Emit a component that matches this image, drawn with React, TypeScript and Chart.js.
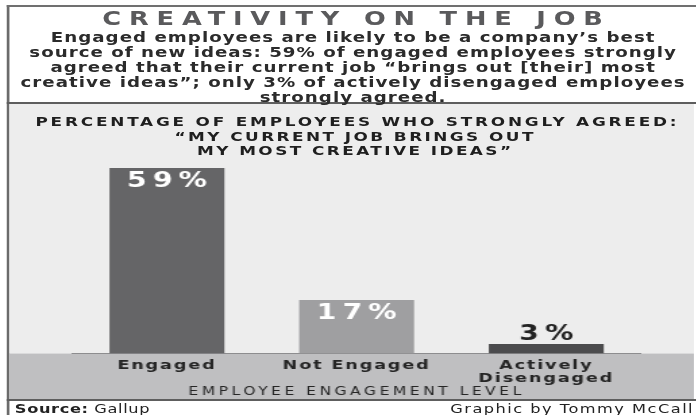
import React, { useEffect, useRef } from 'react';
import { Chart, registerables } from 'chart.js';

Chart.register(...registerables);

// ---- data ----
const categories: string[][] = [['Engaged'], ['Not Engaged'], ['Actively', 'Disengaged']];
const values: number[] = [59, 17, 3];
const valueLabels: string[] = ['59%', '17%', '3%'];
const barColors: string[] = ['#656567', '#9f9fa1', '#4b4b4d'];
const valueLabelColors: string[] = ['#ffffff', '#ffffff', '#232323'];
const yMax = 60;
const axisTitle = 'EMPLOYEE ENGAGEMENT LEVEL';
const headline = 'CREATIVITY ON THE JOB';
const summaryLines: string[] = [
  'Engaged employees are likely to be a company\u2019s best',
  'source of new ideas: 59% of engaged employees strongly',
  'agreed that their current job \u201cbrings out [their] most',
  'creative ideas\u201d; only 3% of actively disengaged employees',
  'strongly agreed.',
];
const chartHeading = 'PERCENTAGE OF EMPLOYEES WHO STRONGLY AGREED:';
const chartSubheading: string[] = ['\u201cMY CURRENT JOB BRINGS OUT', 'MY MOST CREATIVE IDEAS\u201d'];
const sourceLabel = 'Source:';
const sourceName = 'Gallup';
const credit = 'Graphic by Tommy McCall';

// ---- layout constants ----
const S = 1.35; // horizontal stretch of the whole graphic
const INNER = 696 / S;
const FONT = '"DejaVu Sans", sans-serif';
const CANVAS_LEFT = 6.9;
const CANVAS_TOP = 104;
const CANVAS_W = 507;
const CANVAS_H = 295;

const decorPlugin = {
  id: 'decor',
  beforeDraw(chart: any) {
    const { ctx, chartArea, width, height } = chart;
    ctx.save();
    ctx.fillStyle = '#ededed';
    ctx.fillRect(0, 0, width, chartArea.bottom);
    ctx.fillStyle = '#bfbfc1';
    ctx.fillRect(0, chartArea.bottom, width, height - chartArea.bottom);
    ctx.restore();
    ctx.letterSpacing = '2.6px'; // axis title
  },
  afterDatasetsDraw(chart: any) {
    const { ctx } = chart;
    const meta = chart.getDatasetMeta(0);
    ctx.save();
    const sp = 4.5;
    ctx.letterSpacing = sp + 'px';
    ctx.font = `bold 21px ${FONT}`;
    ctx.textAlign = 'center';
    ctx.textBaseline = 'middle';
    meta.data.forEach((bar: any, i: number) => {
      const p = bar.getProps(['x', 'y'], true);
      const inside = values[i] >= 10;
      ctx.fillStyle = valueLabelColors[i];
      ctx.fillText(valueLabels[i], p.x + sp / 2, inside ? p.y + 13.5 : p.y - 10);
    });
    ctx.restore();
    ctx.letterSpacing = '1.4px'; // tick labels
  },
  afterDraw(chart: any) {
    chart.ctx.letterSpacing = '0px';
  },
};

export default function App() {
  const ref = useRef<HTMLCanvasElement | null>(null);

  useEffect(() => {
    if (!ref.current) return;
    const chart = new Chart(ref.current, {
      type: 'bar',
      data: {
        labels: categories,
        datasets: [
          {
            data: values,
            backgroundColor: barColors,
            borderWidth: 0,
            barPercentage: 0.606,
            categoryPercentage: 1,
          },
        ],
      },
      options: {
        animation: false,
        responsive: false,
        events: [],
        layout: { padding: { left: 46.4, right: 39.1, top: 60.85, bottom: 0 } },
        plugins: {
          legend: { display: false },
          tooltip: { enabled: false },
          title: { display: false },
        },
        scales: {
          x: {
            grid: { display: false, drawTicks: false },
            border: { display: true, color: '#8d8d8f', width: 1 },
            ticks: {
              color: '#252525',
              font: { family: FONT, size: 13, weight: 'bold', lineHeight: 1 },
              padding: 5.5,
              z: 1,
              maxRotation: 0,
              autoSkip: false,
            },
            title: {
              display: true,
              text: axisTitle,
              color: '#262626',
              font: { family: FONT, size: 11.5, lineHeight: 1 },
              padding: { top: -4, bottom: 1 },
            },
          },
          y: { display: false, min: 0, max: yMax, grid: { display: false } },
        },
      } as any,
      plugins: [decorPlugin],
    });
    return () => chart.destroy();
  }, []);

  const abs = (o: React.CSSProperties): React.CSSProperties => ({ position: 'absolute', ...o });

  return (
    <div style={{ position: 'fixed', left: 0, top: 0, width: 696, height: 415, overflow: 'hidden', background: '#ffffff' }}>
      <div
        style={{
          position: 'absolute', left: 0, top: 0, width: INNER, height: 415,
          transform: `scaleX(${S})`, transformOrigin: '0 0', fontFamily: FONT,
        }}
      >
        <canvas
          ref={ref}
          width={CANVAS_W}
          height={CANVAS_H}
          style={{ position: 'absolute', left: CANVAS_LEFT, top: CANVAS_TOP, width: CANVAS_W, height: CANVAS_H, display: 'block' }}
        />
        {/* borders */}
        <div style={abs({ left: 5.4, top: 5, width: 1.5, height: 410, background: '#6b6b6b' })} />
        <div style={abs({ left: 5.4, top: 5, width: INNER - 5.4, height: 2, background: '#707070' })} />
        <div style={abs({ left: 5.4, top: 102, width: INNER - 5.4, height: 2, background: '#5e5e5e' })} />
        <div style={abs({ left: 5.4, top: 399, width: INNER - 5.4, height: 2, background: '#5e5e5e' })} />

        {/* headline */}
        <div
          style={abs({
            left: 6.9, width: INNER - 6.9, top: 8.5, textAlign: 'center', fontSize: 19, fontWeight: 'bold',
            letterSpacing: 5.8, paddingLeft: 5.8, boxSizing: 'border-box', lineHeight: '19px', color: '#5a5a5c', whiteSpace: 'nowrap',
          })}
        >
          {headline}
        </div>
        {/* summary */}
        <div style={abs({ left: 6.9, width: INNER - 6.9, top: 29.5, textAlign: 'center', fontSize: 13.5, fontWeight: 'bold', letterSpacing: 0.75, color: '#2b2b2b', lineHeight: '15px', whiteSpace: 'nowrap' })}>
          {summaryLines.map((l, i) => (
            <div key={i} style={{ paddingLeft: 0.75 }}>{l}</div>
          ))}
        </div>

        {/* chart heading */}
        <div style={abs({ left: 0, width: 2 * (356 / S), top: 115, textAlign: 'center', fontSize: 12.5, fontWeight: 'bold', letterSpacing: 2.07, paddingLeft: 2.07, boxSizing: 'border-box', color: '#1f1f1f', lineHeight: '14px', whiteSpace: 'nowrap' })}>
          {chartHeading}
        </div>
        <div style={abs({ left: 0, width: 2 * (354 / S), top: 130, textAlign: 'center', fontSize: 12.5, fontWeight: 'bold', letterSpacing: 1.8, color: '#1f1f1f', lineHeight: '14px', whiteSpace: 'nowrap' })}>
          {chartSubheading.map((l, i) => (
            <div key={i} style={{ paddingLeft: 1.8 }}>{l}</div>
          ))}
        </div>

        {/* footer */}
        <div style={abs({ left: 11, top: 402, fontSize: 12, lineHeight: '14px', letterSpacing: 0.46, color: '#222', whiteSpace: 'nowrap' })}>
          <span style={{ fontWeight: 'bold' }}>{sourceLabel}</span> {sourceName}
        </div>
        <div style={abs({ right: 1.4, top: 402, fontSize: 12, lineHeight: '14px', letterSpacing: 1.1, color: '#222', whiteSpace: 'nowrap', textAlign: 'right' })}>
          {credit}
        </div>
      </div>
    </div>
  );
}
